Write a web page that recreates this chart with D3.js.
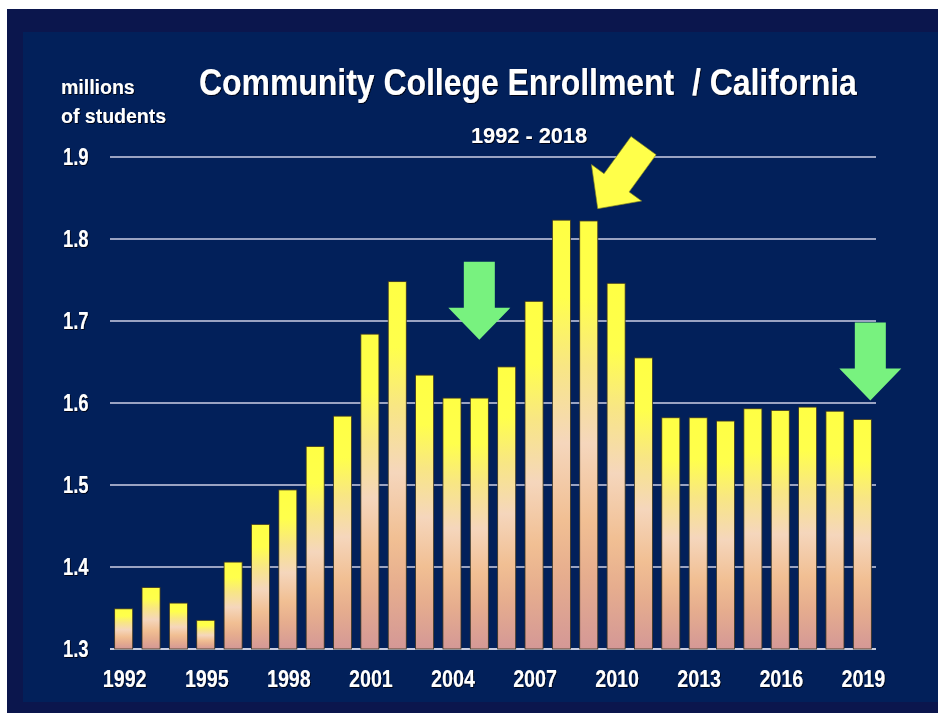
<!DOCTYPE html>
<html>
<head>
<meta charset="utf-8">
<script src="https://cdn.jsdelivr.net/npm/d3@7"></script>
<style>
  html, body { margin: 0; padding: 0; background: #ffffff; }
  svg { display: block; }
  text { font-family: "Liberation Sans", Arial, sans-serif; font-weight: bold; fill: #ffffff; }
</style>
</head>
<body>
<svg id="chart" width="938" height="713"></svg>
<script>
// ---- data ----
const years = [1992,1993,1994,1995,1996,1997,1998,1999,2000,2001,2002,2003,2004,2005,
               2006,2007,2008,2009,2010,2011,2012,2013,2014,2015,2016,2017,2018,2019];
const enrollment = [1.349,1.375,1.356,1.335,1.406,1.452,1.494,1.547,1.584,1.684,1.748,1.634,1.606,1.606,
                    1.644,1.724,1.823,1.822,1.746,1.655,1.582,1.582,1.578,1.593,1.591,1.595,1.590,1.580];
const yTicks = [1.3,1.4,1.5,1.6,1.7,1.8,1.9];
const xTickYears = [1992,1995,1998,2001,2004,2007,2010,2013,2016,2019];
const titleText = "Community College Enrollment  / California";
const subtitleText = "1992 - 2018";
const unitLines = ["millions", "of students"];
// annotation arrows: tip position in data space, rotation in degrees
const arrowYears = [2005, 2009, 2019];
const arrowValues = [1.677, 1.837, 1.603];
const arrowAngles = [0, 36, 0];
const arrowColors = ["#78f27f", "#ffff4a", "#78f27f"];
const arrowDx = [0, 9, 8];

// ---- layout ----
const svg = d3.select("#chart");
const W = 938, H = 713;
const plot = {left: 110, right: 876, top: 157, bottom: 649};

const defs = svg.append("defs");
const grad = defs.append("linearGradient").attr("id", "barGrad")
  .attr("x1", 0).attr("y1", 0).attr("x2", 0).attr("y2", 1);
[[0, "#ffff44"], [0.18, "#ffff4c"], [0.34, "#f8e684"], [0.52, "#f5d6bc"],
 [0.70, "#f1bf93"], [0.83, "#e6ad8e"], [1, "#d49896"]].forEach(([o, c]) =>
  grad.append("stop").attr("offset", o).attr("stop-color", c));

const sh = defs.append("filter").attr("id", "tshadow")
  .attr("x", "-10%").attr("y", "-20%").attr("width", "130%").attr("height", "150%");
sh.append("feDropShadow").attr("dx", 1).attr("dy", 1).attr("stdDeviation", 0.6)
  .attr("flood-color", "#000010").attr("flood-opacity", 0.9);

// background frame
svg.append("rect").attr("x", 7).attr("y", 9).attr("width", W - 7).attr("height", H - 9)
  .attr("fill", "#0b164d");
svg.append("rect").attr("x", 23).attr("y", 32).attr("width", W - 23).attr("height", 702 - 32)
  .attr("fill", "#02205a");

// scales
const x = d3.scaleBand().domain(years).range([plot.left, plot.right])
  .paddingInner(0.34).paddingOuter(0.17);
const y = d3.scaleLinear().domain([1.3, 1.9]).range([plot.bottom, plot.top]);

// gridlines
svg.append("g").selectAll("line").data(yTicks).join("line")
  .attr("x1", plot.left).attr("x2", plot.right)
  .attr("y1", d => y(d)).attr("y2", d => y(d))
  .attr("stroke", d => d === 1.3 ? "#c9cde0" : "#9aa3c2")
  .attr("stroke-width", 1.8);

// bars
svg.append("g").selectAll("rect").data(years).join("rect")
  .attr("x", d => x(d))
  .attr("y", (d, i) => y(enrollment[i]))
  .attr("width", x.bandwidth())
  .attr("height", (d, i) => y(1.3) - y(enrollment[i]))
  .attr("fill", "url(#barGrad)")
  .attr("stroke", "#3b3522").attr("stroke-width", 0.8);

// horizontally squeezed text helper
function squeezed(g, txt, px, py, size, sx, anchor) {
  return g.append("text")
    .attr("transform", `translate(${px},${py}) scale(${sx},1)`)
    .attr("font-size", size).attr("text-anchor", anchor || "start")
    .attr("filter", "url(#tshadow)")
    .text(txt);
}
// text squeezed to fit a target width
function fitted(g, txt, px, py, size, targetW, anchor) {
  const t = g.append("text").attr("font-size", size)
    .attr("text-anchor", anchor || "start")
    .attr("filter", "url(#tshadow)")
    .style("white-space", "pre").text(txt);
  const w = t.node().getComputedTextLength();
  const sx = Math.min(1, targetW / w);
  t.attr("transform", `translate(${px},${py}) scale(${sx},1)`);
  return t;
}

const yAxisG = svg.append("g");
yTicks.forEach(t => squeezed(yAxisG, d3.format(".1f")(t), 88.5, y(t) + 8.3, 23, 0.8, "end"));

const xAxisG = svg.append("g");
xTickYears.forEach(yr => squeezed(xAxisG, String(yr), x(yr) + x.bandwidth() / 2 + 1, 687, 23, 0.855, "middle"));

// unit label
unitLines.forEach((l, i) =>
  svg.append("text").attr("x", 61).attr("y", 94 + i * 29.3)
    .attr("font-size", 19.5).attr("filter", "url(#tshadow)").text(l));

// title and subtitle
fitted(svg, titleText, 199, 95, 37, 658, "start");
fitted(svg, subtitleText, 529, 142.5, 22.5, 116, "middle");

// arrows
const arrowPath = "M-15.5,-78 L15.5,-78 L15.5,-32 L31,-32 L0,0 L-31,-32 L-15.5,-32 Z";
svg.append("g").selectAll("path").data(arrowYears).join("path")
  .attr("d", arrowPath)
  .attr("transform", (d, i) =>
    `translate(${x(d) + x.bandwidth() / 2 + arrowDx[i]},${y(arrowValues[i])}) rotate(${arrowAngles[i]})`)
  .attr("fill", (d, i) => arrowColors[i])
  .attr("stroke", (d, i) => i === 1 ? "#8a8a20" : "none")
  .attr("stroke-width", 0.6);
</script>
</body>
</html>
